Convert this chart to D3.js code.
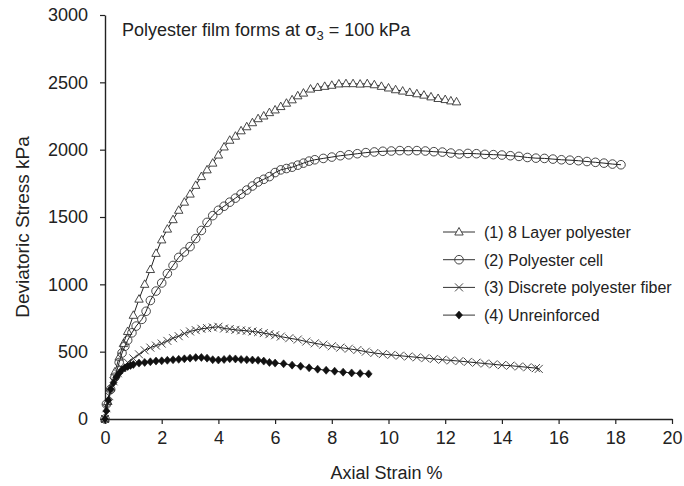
<!DOCTYPE html>
<html>
<head>
<meta charset="utf-8">
<script src="https://cdn.jsdelivr.net/npm/d3@7"></script>
<style>
  body { margin: 0; background: #fff; }
  text { font-family: "Liberation Sans", Arial, sans-serif; fill: #222; }
</style>
</head>
<body>
<script>
// data
var strain1 = [0,0.1,0.2,0.35,0.5,0.65,0.8,1.0,1.2,1.4,1.6,1.8,2.0,2.2,2.4,2.6,2.8,3.0,3.2,3.4,3.6,3.8,4.0,4.2,4.4,4.6,4.8,5.0,5.2,5.4,5.6,5.8,6.0,6.2,6.4,6.6,6.8,7.0,7.25,7.5,7.75,8.0,8.25,8.5,8.75,9.0,9.25,9.5,9.75,10.0,10.25,10.5,10.75,11.0,11.25,11.5,11.75,12.0,12.2,12.4];
var stress1 = [0,130,230,350,460,560,650,770,890,1000,1110,1230,1330,1410,1480,1550,1610,1670,1735,1800,1850,1900,1960,2020,2070,2100,2140,2170,2200,2230,2250,2275,2295,2320,2345,2370,2400,2420,2450,2462,2470,2478,2488,2490,2490,2487,2490,2482,2470,2458,2445,2435,2425,2415,2405,2392,2380,2372,2362,2355];

var strain2 = [0,0.05,0.2,0.35,0.5,0.6,0.7,0.8,0.95,1.1,1.3,1.45,1.6,1.8,2.0,2.2,2.4,2.6,2.8,3.0,3.2,3.4,3.6,3.8,4.0,4.2,4.4,4.6,4.8,5.0,5.2,5.4,5.6,5.8,6.0,6.2,6.4,6.6,6.8,7.0,7.2,7.4,7.7,8.0,8.3,8.6,8.9,9.2,9.5,9.8,10.1,10.4,10.7,11.0,11.3,11.6,11.9,12.2,12.5,12.8,13.1,13.4,13.7,14.0,14.3,14.6,14.9,15.2,15.5,15.8,16.1,16.4,16.7,17.0,17.3,17.6,17.9,18.2];
var stress2 = [0,110,220,310,420,490,540,585,640,690,740,800,880,950,1010,1080,1140,1200,1240,1280,1340,1400,1460,1510,1550,1580,1610,1640,1670,1700,1730,1760,1780,1800,1830,1850,1860,1870,1885,1900,1915,1925,1935,1945,1955,1962,1970,1978,1983,1988,1990,1993,1992,1993,1990,1985,1982,1975,1968,1972,1970,1965,1963,1960,1955,1950,1942,1937,1935,1930,1925,1922,1918,1912,1906,1900,1893,1888];

var strain3 = [0,0.05,0.15,0.3,0.45,0.6,0.8,1.0,1.2,1.4,1.6,1.8,2.0,2.2,2.4,2.6,2.8,3.0,3.2,3.4,3.6,3.8,4.0,4.2,4.4,4.6,4.8,5.0,5.2,5.4,5.6,5.8,6.0,6.2,6.5,6.8,7.1,7.4,7.7,8.0,8.3,8.6,8.9,9.2,9.5,9.8,10.1,10.4,10.7,11.0,11.3,11.6,11.9,12.2,12.5,12.8,13.1,13.4,13.7,14.0,14.3,14.6,14.9,15.2,15.3];
var stress3 = [0,80,170,280,340,380,420,450,480,510,530,545,560,580,600,615,635,650,660,670,675,680,685,672,668,662,658,655,650,645,638,630,622,612,600,590,575,562,552,540,530,522,512,500,490,482,476,470,464,458,452,446,440,435,430,424,418,412,406,400,396,390,384,378,372];

var strain4 = [0,0.05,0.12,0.2,0.3,0.4,0.5,0.6,0.7,0.8,0.9,1.0,1.2,1.4,1.6,1.8,2.0,2.2,2.4,2.6,2.8,3.0,3.2,3.4,3.6,3.8,4.0,4.2,4.4,4.6,4.8,5.0,5.2,5.4,5.6,5.8,6.0,6.3,6.6,6.9,7.2,7.5,7.8,8.1,8.4,8.7,9.0,9.3];
var stress4 = [0,60,140,220,270,310,340,365,380,390,398,405,415,420,425,430,432,436,440,443,447,452,456,457,452,440,438,442,448,446,442,440,438,436,430,420,415,410,400,392,380,370,362,355,348,342,338,335];

var seriesNames = ["(1) 8 Layer polyester", "(2) Polyester cell", "(3) Discrete polyester fiber", "(4) Unreinforced"];
var seriesMarks = ["triangle", "circle", "cross", "diamond"];
var xTicks = [0,2,4,6,8,10,12,14,16,18,20];
var yTicks = [0,500,1000,1500,2000,2500,3000];

var margin = {top: 15, right: 12, bottom: 67, left: 105},
    width = 684 - margin.left - margin.right,
    height = 486 - margin.top - margin.bottom;

var svg = d3.select("body").append("svg")
    .attr("width", 684)
    .attr("height", 486);

var g = svg.append("g")
    .attr("transform", "translate(" + margin.left + "," + margin.top + ")");

var x = d3.scaleLinear().domain([0, 20]).range([0, width]);
var y = d3.scaleLinear().domain([0, 3000]).range([height, 0]);

function zip(a, b) {
  return a.map(function(d, i) { return [d, b[i]]; });
}
var series = [zip(strain1, stress1), zip(strain2, stress2), zip(strain3, stress3), zip(strain4, stress4)];

// axes
var xAxis = g.append("g")
    .attr("transform", "translate(0," + height + ")")
    .call(d3.axisBottom(x).tickValues(xTicks).tickFormat(d3.format("d"))
      .tickSize(5).tickSizeOuter(0).tickPadding(7));
var yAxis = g.append("g")
    .call(d3.axisLeft(y).tickValues(yTicks).tickFormat(d3.format("d"))
      .tickSize(5).tickSizeOuter(0).tickPadding(12));

[xAxis, yAxis].forEach(function(a) {
  a.select(".domain").attr("stroke", "#222").attr("stroke-width", 1.4);
  a.selectAll(".tick line").attr("stroke", "#222").attr("stroke-width", 1.2);
  a.selectAll(".tick text")
    .attr("font-family", "Liberation Sans, Arial, sans-serif")
    .attr("font-size", "18px").attr("fill", "#222");
});

var line = d3.line()
    .x(function(d) { return x(d[0]); })
    .y(function(d) { return y(d[1]); });

function drawMark(sel, type) {
  if (type === "triangle") {
    sel.append("path").attr("d", "M0,-4.5L4.2,3L-4.2,3Z")
      .attr("fill", "#fff").attr("stroke", "#333").attr("stroke-width", 0.9);
  } else if (type === "circle") {
    sel.append("circle").attr("r", 4.3)
      .attr("fill", "none").attr("stroke", "#333").attr("stroke-width", 0.9);
  } else if (type === "cross") {
    sel.append("path").attr("d", "M-4,-4L4,4M-4,4L4,-4")
      .attr("fill", "none").attr("stroke", "#333").attr("stroke-width", 0.9);
  } else {
    sel.append("path").attr("d", "M0,-4L3.5,0L0,4L-3.5,0Z")
      .attr("fill", "#111").attr("stroke", "#111").attr("stroke-width", 0.6);
  }
}

series.forEach(function(data, k) {
  g.append("path")
    .datum(data)
    .attr("fill", "none")
    .attr("stroke", "#222")
    .attr("stroke-width", 1)
    .attr("d", line);

  g.selectAll(".pt" + k)
    .data(data)
    .enter().append("g")
    .attr("class", "pt" + k)
    .attr("transform", function(d) { return "translate(" + x(d[0]) + "," + y(d[1]) + ")"; })
    .each(function() { drawMark(d3.select(this), seriesMarks[k]); });
});

// legend
var legend = svg.append("g").attr("transform", "translate(443,232)");
seriesNames.forEach(function(name, i) {
  var row = legend.append("g").attr("transform", "translate(0," + (i * 27.7) + ")");
  row.append("line").attr("x1", 0).attr("x2", 32).attr("y1", 0).attr("y2", 0)
    .attr("stroke", "#333").attr("stroke-width", 1);
  drawMark(row.append("g").attr("transform", "translate(16,0)"), seriesMarks[i]);
  row.append("text").attr("x", 41).attr("y", 6)
    .attr("font-size", "16px")
    .text(name);
});

// title
var title = svg.append("text").attr("x", 122).attr("y", 36).attr("font-size", "18px");
title.append("tspan").text("Polyester film forms at ");
title.append("tspan").attr("font-family", "DejaVu Sans, sans-serif").text("σ");
title.append("tspan").attr("dy", 4).attr("font-size", "13px").text("3");
title.append("tspan").attr("dy", -4).text(" = 100 kPa");

// axis titles
svg.append("text")
  .attr("x", margin.left + width / 2 - 2)
  .attr("y", 479)
  .attr("text-anchor", "middle")
  .attr("font-size", "18px")
  .text("Axial Strain %");

svg.append("text")
  .attr("transform", "translate(29," + (margin.top + height / 2 + 10) + ") rotate(-90)")
  .attr("text-anchor", "middle")
  .attr("font-size", "19px")
  .text("Deviatoric Stress kPa");
</script>
</body>
</html>
